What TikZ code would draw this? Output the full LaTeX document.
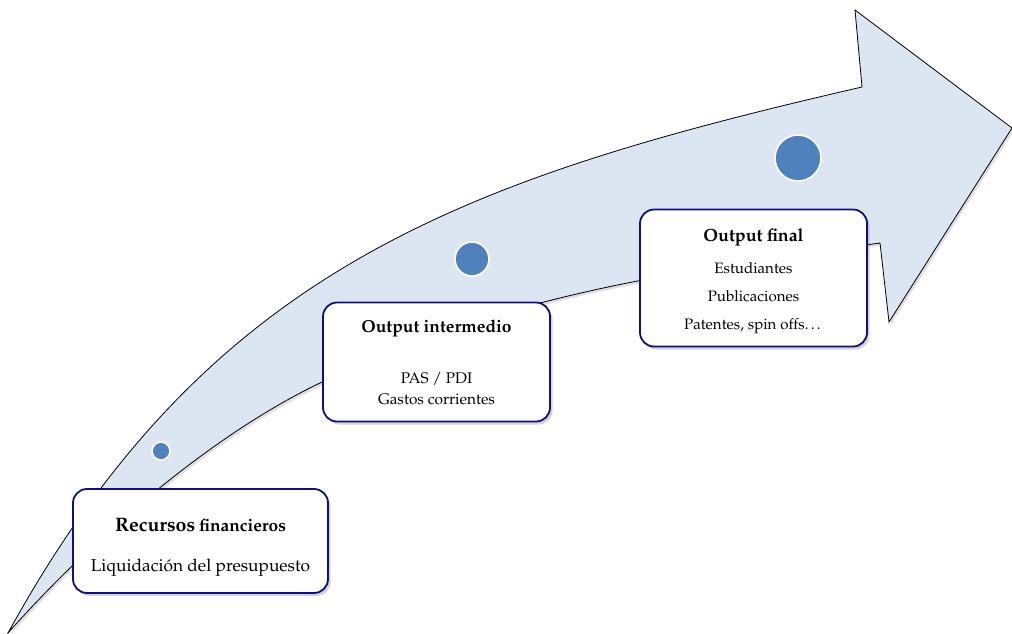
\documentclass[tikz,border=0pt]{standalone}
\usepackage[T1]{fontenc}
\usepackage{mathpazo}
\usetikzlibrary{shadows}
\definecolor{arrowfill}{RGB}{220,230,242}
\definecolor{dotblue}{RGB}{79,129,189}
\definecolor{boxline}{RGB}{15,15,130}

\begin{document}
\begin{tikzpicture}[x=1pt,y=-1pt,
  stage/.style={draw=boxline,line width=1.8pt,fill=white,rounded corners=14pt,align=center,inner sep=0pt,
    drop shadow={shadow xshift=2.5pt,shadow yshift=-3pt,opacity=0.35}},
  dot/.style={circle,draw=white,line width=1.6pt,fill=dotblue,inner sep=0pt}]
\useasboundingbox (0,0) rectangle (1012,633);

\draw[fill=arrowfill,line width=0.8pt,line join=miter,drop shadow={shadow xshift=2pt,shadow yshift=-2.5pt,opacity=0.25}]
  (8,633) .. controls (208,269) and (462,179) .. (862,87)
  -- (855,10) -- (1012,128) -- (889,322) -- (880,243)
  .. controls (690,270) and (512,291) .. (322,382)
  .. controls (192,444) and (68,565) .. (8,633) -- cycle;

\node[dot,minimum size=18pt] (dot1) at (161,451) {};
\node[dot,minimum size=34pt] (dot2) at (472,259) {};
\node[dot,minimum size=46pt] (dot3) at (798,158) {};

\node[stage,minimum width=255pt,minimum height=104pt,font=\fontsize{17.3}{20}\selectfont] (recursos) at (200.5,541)
  {\rule{0pt}{26pt}\textbf{{\fontsize{19.5}{20}\selectfont Recursos} financieros}\\[20pt] Liquidaci\'on del presupuesto};
\node[stage,minimum width=227pt,minimum height=119pt,font=\fontsize{15.4}{21}\selectfont] (intermedio) at (436.5,362)
  {\textbf{\fontsize{17.4}{20}\selectfont Output intermedio}\\[30pt] PAS / PDI\\ Gastos corrientes};
\node[stage,minimum width=227pt,minimum height=137pt,font=\fontsize{15.1}{28}\selectfont] (final) at (753.5,278)
  {\rule{0pt}{19pt}\textbf{\fontsize{17.8}{20}\selectfont Output final}\\[4pt] Estudiantes\\ Publicaciones\\ Patentes, spin offs\ldots};
\end{tikzpicture}
\end{document}
